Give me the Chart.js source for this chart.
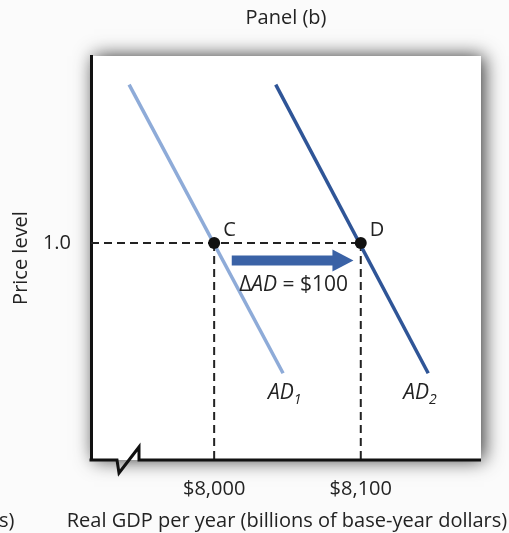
<!DOCTYPE html>
<html>
<head>
<meta charset="utf-8">
<script src="https://cdn.jsdelivr.net/npm/chart.js@4"></script>
<style>
  html, body { margin: 0; padding: 0; background: #fbfbfb; }
  canvas { display: block; }
</style>
</head>
<body>
<canvas id="myChart" width="509" height="533"></canvas>
<script>
// values
var ad1X = [7942, 8047];
var ad1Y = [1.73, 0.40];
var ad2X = [8042, 8146];
var ad2Y = [1.73, 0.40];
var pointLabels = ['C', 'D'];
var pointX = [8000, 8100];
var pointY = [1.0, 1.0];
var arrowX = [8012, 8095];
var arrowY = 0.92;
var xTicks = [8000, 8100];
var yTicks = [1.0];
var xMin = 7916, xMax = 8182;
var yMin = 0, yMax = 1.862;
var xTitle = 'Real GDP per year (billions of base-year dollars)';

var textColor = '#232323';
var fontName = "'Open Sans', sans-serif";

function toPoints(xs, ys) {
  var out = [];
  for (var i = 0; i < xs.length; i++) {
    out.push({ x: xs[i], y: ys[i] });
  }
  return out;
}

// plot box with shadow, drawn behind everything
var boxPlugin = {
  id: 'box',
  beforeDraw: function(chart) {
    var ctx = chart.ctx;
    var a = chart.chartArea;
    ctx.save();
    ctx.shadowColor = 'rgba(0,0,0,0.8)';
    ctx.shadowBlur = 18;
    ctx.shadowOffsetX = 3;
    ctx.fillStyle = '#ffffff';
    ctx.fillRect(a.left, a.top, a.right - a.left, a.bottom - a.top);
    ctx.restore();
  }
};

function italicSub(ctx, main, sub, x, y) {
  ctx.font = 'italic 21px ' + fontName;
  ctx.textAlign = 'left';
  ctx.textBaseline = 'middle';
  ctx.fillText(main, x, y);
  var w = ctx.measureText(main).width;
  ctx.font = 'italic 14px ' + fontName;
  ctx.fillText(sub, x + w, y + 7);
}

var annotPlugin = {
  id: 'annot',
  afterDatasetsDraw: function(chart) {
    var ctx = chart.ctx;
    var a = chart.chartArea;
    var xs = chart.scales.x;
    var ys = chart.scales.y;
    ctx.save();

    // x axis with the break mark
    var b = a.bottom;
    ctx.strokeStyle = '#111';
    ctx.lineWidth = 3;
    ctx.lineJoin = 'miter';
    ctx.beginPath();
    ctx.moveTo(a.left - 1.5, b);
    ctx.lineTo(a.left + 26, b);
    ctx.lineTo(a.left + 28, b + 13);
    ctx.lineTo(a.left + 48, b - 13);
    ctx.lineTo(a.left + 48, b);
    ctx.lineTo(a.right, b);
    ctx.stroke();

    // shift arrow
    var x0 = xs.getPixelForValue(arrowX[0]);
    var x1 = xs.getPixelForValue(arrowX[1]);
    var yA = ys.getPixelForValue(arrowY);
    ctx.fillStyle = '#3a62a6';
    ctx.beginPath();
    ctx.moveTo(x0, yA - 5);
    ctx.lineTo(x1 - 21, yA - 5);
    ctx.lineTo(x1 - 21, yA - 11);
    ctx.lineTo(x1, yA);
    ctx.lineTo(x1 - 21, yA + 11);
    ctx.lineTo(x1 - 21, yA + 5);
    ctx.lineTo(x0, yA + 5);
    ctx.closePath();
    ctx.fill();

    ctx.fillStyle = textColor;

    // point letters
    ctx.font = '20px ' + fontName;
    ctx.textAlign = 'left';
    ctx.textBaseline = 'middle';
    for (var i = 0; i < pointLabels.length; i++) {
      var px = xs.getPixelForValue(pointX[i]);
      var py = ys.getPixelForValue(pointY[i]);
      ctx.fillText(pointLabels[i], px + 9, py - 13);
    }

    // delta label
    var cx = (x0 + x1) / 2 + 1;
    var cy = yA + 25;
    var parts = [
      { t: '\u0394', f: '21px ' + fontName },
      { t: 'AD', f: 'italic 21px ' + fontName },
      { t: ' = $100', f: '21px ' + fontName }
    ];
    var total = 0;
    for (var j = 0; j < parts.length; j++) {
      ctx.font = parts[j].f;
      total += ctx.measureText(parts[j].t).width;
    }
    var tx = cx - total / 2;
    for (var k = 0; k < parts.length; k++) {
      ctx.font = parts[k].f;
      ctx.fillText(parts[k].t, tx, cy);
      tx += ctx.measureText(parts[k].t).width;
    }

    // curve labels
    italicSub(ctx, 'AD', '1', xs.getPixelForValue(ad1X[1]) - 15, ys.getPixelForValue(ad1Y[1]) + 20);
    italicSub(ctx, 'AD', '2', xs.getPixelForValue(ad2X[1]) - 25, ys.getPixelForValue(ad2Y[1]) + 20);

    // panel title and x axis title
    ctx.font = '20px ' + fontName;
    ctx.textAlign = 'center';
    ctx.fillText('Panel (b)', (a.left + a.right) / 2, 18);
    ctx.fillText(xTitle, (a.left + a.right) / 2 + 1, 521);

    // edge of the neighbouring panel's label
    ctx.textAlign = 'left';
    ctx.fillText('s)', -1, 521);

    ctx.restore();
  }
};

var dashStyle = { borderColor: '#222', borderWidth: 2, borderDash: [8, 5] };

var ctx = document.getElementById('myChart').getContext('2d');
var chart = new Chart(ctx, {
  type: 'line',
  data: {
    datasets: [
      {
        label: 'C, D',
        data: toPoints(pointX, pointY),
        showLine: false,
        pointRadius: 6,
        pointBackgroundColor: '#111',
        pointBorderWidth: 0,
        order: 0
      },
      {
        label: 'AD1',
        data: toPoints(ad1X, ad1Y),
        borderColor: '#8eabd8',
        borderWidth: 3.5,
        pointRadius: 0,
        order: 1
      },
      {
        label: 'AD2',
        data: toPoints(ad2X, ad2Y),
        borderColor: '#2f5597',
        borderWidth: 3.5,
        pointRadius: 0,
        order: 1
      },
      Object.assign({
        label: 'level',
        data: toPoints([xMin, pointX[1]], [pointY[0], pointY[1]]),
        pointRadius: 0,
        order: 2
      }, dashStyle),
      Object.assign({
        label: 'drop C',
        data: toPoints([pointX[0], pointX[0]], [pointY[0], yMin]),
        pointRadius: 0,
        order: 2
      }, dashStyle),
      Object.assign({
        label: 'drop D',
        data: toPoints([pointX[1], pointX[1]], [pointY[1], yMin]),
        pointRadius: 0,
        order: 2
      }, dashStyle)
    ]
  },
  options: {
    responsive: false,
    animation: false,
    layout: { padding: { top: 56, right: 28, left: 0, bottom: 0 } },
    plugins: {
      legend: { display: false },
      tooltip: { enabled: false }
    },
    scales: {
      x: {
        type: 'linear',
        min: xMin,
        max: xMax,
        afterFit: function(scale) { scale.height = 73; },
        afterBuildTicks: function(scale) {
          scale.ticks = xTicks.map(function(v) { return { value: v }; });
        },
        grid: { display: false, drawTicks: false },
        border: { display: false },
        ticks: {
          padding: 17,
          color: textColor,
          font: { family: fontName, size: 20 },
          callback: function(v) { return '$' + v.toLocaleString('en-US'); }
        }
      },
      y: {
        type: 'linear',
        min: yMin,
        max: yMax,
        afterFit: function(scale) { scale.width = 91; },
        afterBuildTicks: function(scale) {
          scale.ticks = yTicks.map(function(v) { return { value: v }; });
        },
        grid: { display: false, drawTicks: false },
        border: { display: true, color: '#111', width: 3 },
        ticks: {
          padding: 20,
          color: textColor,
          font: { family: fontName, size: 20 },
          callback: function(v) { return Number(v).toFixed(1); }
        },
        title: {
          display: true,
          text: 'Price level',
          color: textColor,
          font: { family: fontName, size: 20 },
          padding: { top: 9, bottom: 0 }
        }
      }
    }
  },
  plugins: [boxPlugin, annotPlugin]
});
</script>
</body>
</html>
